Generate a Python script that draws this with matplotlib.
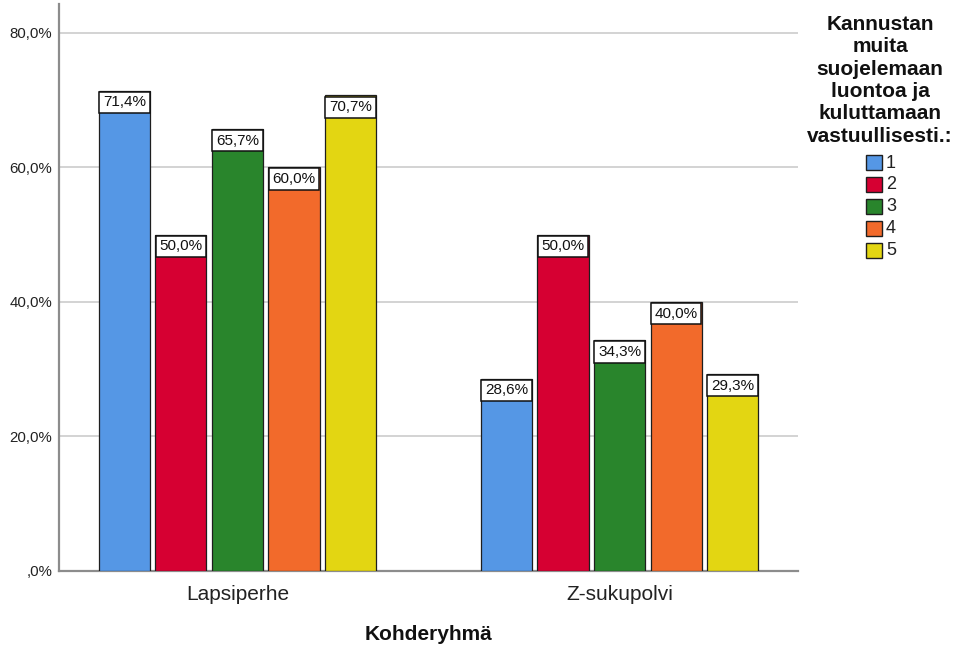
import matplotlib
matplotlib.use("Agg")
import matplotlib.pyplot as plt
from matplotlib.patches import Rectangle
import numpy as np

plt.rcParams['font.family'] = ['Liberation Sans', 'DejaVu Sans']

# Data
groups = ["Lapsiperhe", "Z-sukupolvi"]
responses = ["1", "2", "3", "4", "5"]
values = {
    "1": [71.4, 28.6],
    "2": [50.0, 50.0],
    "3": [65.7, 34.3],
    "4": [60.0, 40.0],
    "5": [70.7, 29.3],
}
colors = ["#5597E5", "#D60032", "#29852C", "#F26A2B", "#E3D612"]
yticks = [0, 20, 40, 60, 80]
ytick_labels = [",0%", "20,0%", "40,0%", "60,0%", "80,0%"]
legend_title = "Kannustan\nmuita\nsuojelemaan\nluontoa ja\nkuluttamaan\nvastuullisesti.:"
xlabel = "Kohderyhmä"

def fmt(v):
    return f"{v:.1f}".replace(".", ",") + "%"

fig = plt.figure(figsize=(9.55, 6.45), dpi=100)
ax = fig.add_axes([59 / 955, 74 / 645, (798 - 59) / 955, (571 - 4) / 645])

x = np.arange(len(groups))
pitch = 0.148
width = 0.1335
n = len(responses)
for i, (r, c) in enumerate(zip(responses, colors)):
    offs = (i - (n - 1) / 2) * pitch
    vals = values[r]
    ax.bar(x + offs, vals, width=width, color=c, edgecolor="#1e1e1e",
           linewidth=0.9, zorder=3)
    for xi, v in zip(x + offs, vals):
        ax.annotate(fmt(v), xy=(xi, v), xytext=(0, -3.4), textcoords="offset points",
                    ha="center", va="top", fontsize=11, color="#111111", zorder=5,
                    bbox=dict(boxstyle="square,pad=0.24", fc="white", ec="#111111", lw=1.1))

ax.set_xlim(-0.467, 1.467)
ax.set_ylim(0, 84.3)
ax.set_yticks(yticks)
ax.set_yticklabels(ytick_labels, fontsize=10.8, color="#222222")
ax.set_xticks(x)
ax.set_xticklabels(groups, fontsize=15, color="#222222")
ax.tick_params(axis="both", length=0)
ax.tick_params(axis="y", pad=5)
ax.tick_params(axis="x", pad=10)
ax.grid(axis="y", color="#C8C8C8", linewidth=1.1, zorder=0)
for s in ["top", "right"]:
    ax.spines[s].set_visible(False)
for s in ["left", "bottom"]:
    ax.spines[s].set_color("#8C8C8C")
    ax.spines[s].set_linewidth(1.6)

fig.text(428.5 / 955, 1 - 634 / 645, xlabel, ha="center", va="center",
         fontsize=15, fontweight="bold", color="#111111")

# Legend: title and swatches
fig.text(880 / 955, 1 - 15 / 645, legend_title, ha="center", va="top",
         fontsize=15, fontweight="bold", color="#111111", linespacing=1.22)
for i, (r, c) in enumerate(zip(responses, colors)):
    top = 155 + i * 21.9
    fig.patches.append(Rectangle((866 / 955, 1 - (top + 15) / 645), 16 / 955, 15 / 645,
                                 transform=fig.transFigure, facecolor=c,
                                 edgecolor="#1e1e1e", linewidth=1.0))
    fig.text(886 / 955, 1 - (top + 8) / 645, r, ha="left", va="center",
             fontsize=13, color="#222222")

fig.savefig("out.png", dpi=100)
